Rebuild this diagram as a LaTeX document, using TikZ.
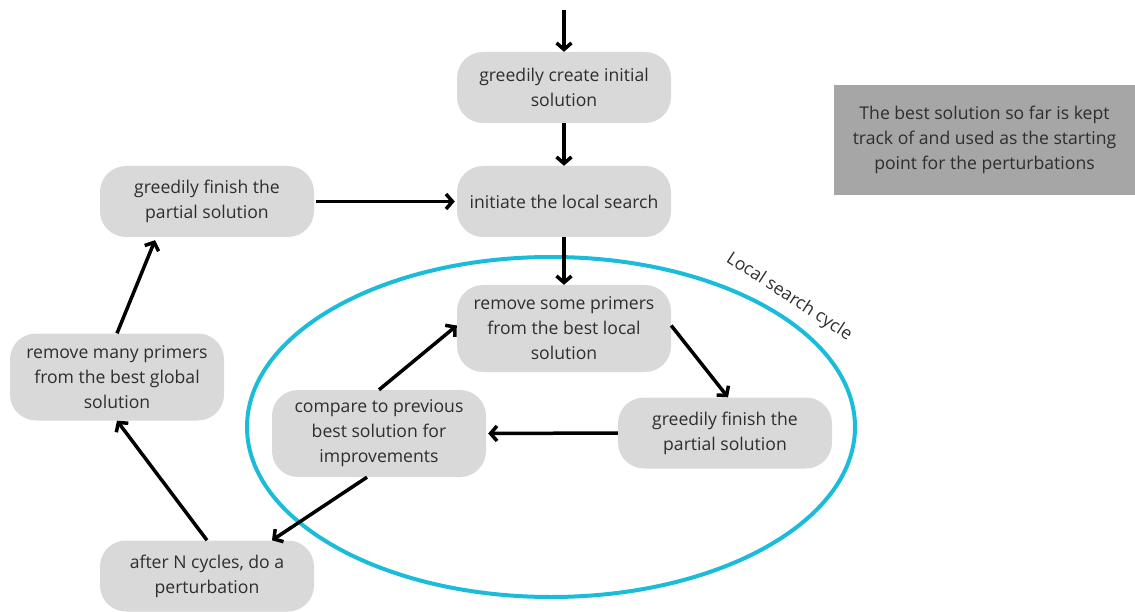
\documentclass[tikz,border=0pt]{standalone}
\usepackage{fontspec}
\setmainfont{Open Sans}
\usetikzlibrary{arrows.meta}
\definecolor{boxgray}{HTML}{D9D9D9}
\definecolor{notegray}{HTML}{A6A6A6}
\definecolor{txtgray}{HTML}{2E2E2E}
\definecolor{cyclecyan}{HTML}{1BBBDA}
\begin{document}
\begin{tikzpicture}[x=1pt,y=-1pt]
        \tikzstyle{every node}+=[font=\fontsize{17.6}{25}\selectfont, text=txtgray, align=center, inner sep=0pt]
        \tikzstyle{stepbox}=[fill=boxgray, rounded corners=26pt, minimum width=214pt, minimum height=71pt]
        \tikzstyle{tallbox}=[stepbox, minimum height=87pt]
        \tikzstyle{conn}=[-{Straight Barb[length=6.5pt,width=15pt,line width=3.5pt]}, line width=3.5pt, black]
        \useasboundingbox (0,0) rectangle (1135,612);
        % the local search cycle
        \draw [cyclecyan, line width=4pt] (551,427) ellipse [x radius=304, y radius=170];
        \node [rotate=-33] (cyclelabel) at (789,297) {Local search cycle};
        % boxes
        \coordinate (start) at (564,10);
        \node [stepbox] (create) at (564,87.5) {greedily create initial\\solution};
        \node [stepbox] (initiate) at (564,201.5) {initiate the local search};
        \node [tallbox] (removesome) at (564,328.5) {remove some primers\\from the best local\\solution};
        \node [stepbox] (finishlocal) at (725,433) {greedily finish the\\partial solution};
        \node [tallbox] (compare) at (379,433.5) {compare to previous\\best solution for\\improvements};
        \node [stepbox] (perturb) at (207,576) {after N cycles, do a\\perturbation};
        \node [tallbox] (removemany) at (117,377) {remove many primers\\from the best global\\solution};
        \node [stepbox] (finishglobal) at (207,201.5) {greedily finish the\\partial solution};
        \node [fill=notegray, minimum width=301pt, minimum height=110pt] (note) at (984.5,140)
                {The best solution so far is kept\\track of and used as the starting\\point for the perturbations};
        % connectors
        \draw [conn] (start) -- (create.north);
        \draw [conn] (create.south) -- (initiate.north);
        \draw [conn] (initiate.south) -- (removesome.north);
        \draw [conn] ([yshift=3pt]removesome.east) -- ([xshift=3pt]finishlocal.north);
        \draw [conn] (finishlocal.west) -- ([xshift=2pt]compare.east);
        \draw [conn] (compare.north) -- ([yshift=3pt]removesome.west);
        \draw [conn] ([xshift=-12pt]compare.south) -- ([xshift=65pt]perturb.north);
        \draw [conn] (perturb.north) -- (removemany.south);
        \draw [conn] (removemany.north) -- ([xshift=-52pt,yshift=-3pt]finishglobal.south);
        \draw [conn, shorten <=2pt, shorten >=2pt] (finishglobal.east) -- (initiate.west);
\end{tikzpicture}
\end{document}
